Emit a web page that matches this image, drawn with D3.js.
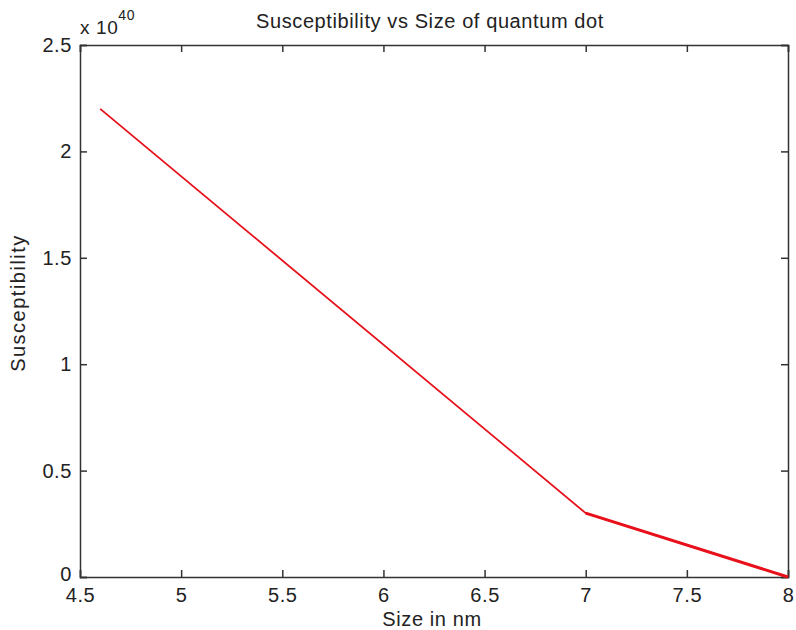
<!DOCTYPE html>
<html>
<head>
<meta charset="utf-8">
<script src="https://cdn.jsdelivr.net/npm/d3@7"></script>
<style>
  body { margin: 0; background: #fff; }
  text { font-family: "Liberation Sans", Arial, sans-serif; fill: #222; letter-spacing: 0.6px; }
</style>
</head>
<body>
<svg id="chart" width="796" height="630"></svg>
<script>
// data (susceptibility in units of 1e40)
var sizes = [4.6, 7, 8];
var suscept = [2.2, 0.3, 0];
var xTicks = [4.5, 5, 5.5, 6, 6.5, 7, 7.5, 8];
var yTicks = [0, 0.5, 1, 1.5, 2, 2.5];

var margin = {left: 80, right: 8, top: 45, bottom: 53};
var W = 796, H = 630;
var svg = d3.select("#chart");

var x = d3.scaleLinear().domain([4.5, 8]).range([margin.left, W - margin.right]);
var y = d3.scaleLinear().domain([0, 2.5]).range([H - margin.bottom, margin.top]);

// axes, matlab style: ticks inside, mirrored on top/right
var tickLen = 7;
var g = svg.append("g");

g.append("g").attr("transform", "translate(0," + y(0) + ")")
  .call(d3.axisBottom(x).tickValues(xTicks).tickSize(-tickLen).tickPadding(11).tickFormat(d3.format("")))
  .call(styleAxis);
g.append("g").attr("transform", "translate(0," + y(2.5) + ")")
  .call(d3.axisTop(x).tickValues(xTicks).tickSize(-tickLen).tickFormat(""))
  .call(styleAxis);
g.append("g").attr("transform", "translate(" + x(4.5) + ",0)")
  .call(d3.axisLeft(y).tickValues(yTicks).tickSize(-tickLen).tickPadding(8).tickFormat(d3.format("")))
  .call(styleAxis)
  .call(function(a){ // nudge the zero label up so it clears "4.5"
    a.selectAll(".tick text").filter(function(d){ return d === 0; }).attr("y", -3);
  });
g.append("g").attr("transform", "translate(" + x(8) + ",0)")
  .call(d3.axisRight(y).tickValues(yTicks).tickSize(-tickLen).tickFormat(""))
  .call(styleAxis);

function styleAxis(sel){
  sel.select(".domain").attr("stroke", "#333").attr("stroke-width", 1.5);
  sel.selectAll(".tick line").attr("stroke", "#333").attr("stroke-width", 1.5);
  sel.selectAll(".tick text").attr("font-size", 20).attr("fill", "#222")
     .attr("font-family", "Liberation Sans, Arial, sans-serif");
}

// the curve
var pts = sizes.map(function(d, i){ return [d, suscept[i]]; });
var line = d3.line().x(function(d){ return x(d[0]); }).y(function(d){ return y(d[1]); });

svg.append("path").datum(pts)
  .attr("d", line)
  .attr("fill", "none")
  .attr("stroke", "#e8101a")
  .attr("stroke-width", 1.8)
  .attr("stroke-linejoin", "round");

// last segment drawn heavier, as in the picture
svg.append("path").datum(pts.slice(1))
  .attr("d", line)
  .attr("fill", "none")
  .attr("stroke", "#e8101a")
  .attr("stroke-width", 3);

// exponent label
var ex = svg.append("text").attr("x", x(4.5)).attr("y", 34).attr("font-size", 19);
ex.append("tspan").text("x 10");
ex.append("tspan").attr("dy", -14).attr("font-size", 14).text("40");

// title and axis labels
svg.append("text").attr("x", 430).attr("y", 28).attr("text-anchor", "middle")
  .attr("font-size", 20).text("Susceptibility vs Size of quantum dot");
svg.append("text").attr("x", 432).attr("y", 626).attr("text-anchor", "middle")
  .attr("font-size", 20).text("Size in nm");
svg.append("text").attr("transform", "translate(25,303) rotate(-90)")
  .attr("text-anchor", "middle").attr("font-size", 20).style("letter-spacing", "1.5px").text("Susceptibility");
</script>
</body>
</html>
